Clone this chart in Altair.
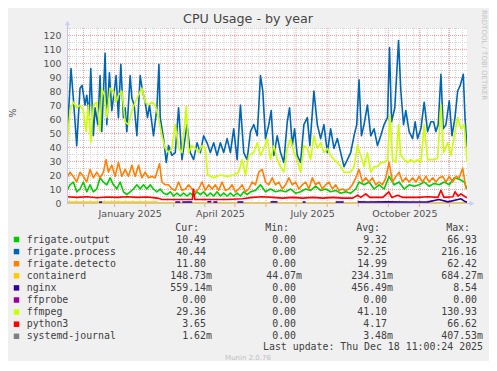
import altair as alt
import pandas as pd

START = pd.Timestamp("2024-11-14 12:00")
END = pd.Timestamp("2025-12-18 12:00")

names = ["frigate.output", "frigate.process", "frigate.detecto", "containerd", "nginx",
         "ffprobe", "ffmpeg", "python3", "systemd-journal"]
colors = ["#00CC00", "#0066B3", "#FF8000", "#FFCC00", "#330099",
          "#990099", "#CCFF00", "#FF0000", "#808080"]

# ---- series (day offset from START, value in %) ----
process_day = [0, 4, 6.3, 9.7, 13, 15, 18, 19.7, 22, 23.7,
               26.3, 28, 30.7, 33, 34.7, 38, 39.7, 42.3, 44.7, 46.3,
               49, 51.3, 53.7, 56.3, 58, 59.7, 63, 64.7, 67, 69.7,
               73, 75.3, 78, 80.3, 82.3, 86.3, 89.7, 91.7, 93, 96.3,
               99, 101.3, 104.7, 108, 111.3, 114.7, 119.7, 123, 126.3, 129.7,
               133, 136.3, 139.7, 143, 146.3, 149.7, 153, 156.3, 159.7, 163,
               166.3, 169.7, 173, 176.3, 179.7, 183, 186.3, 189.7, 193, 195.3,
               198, 201.3, 203.7, 206.3, 209.7, 213, 216.3, 219.7, 222, 224.7,
               227, 229.7, 233, 236.3, 239.7, 242.3, 246.3, 249.7, 253, 256.3,
               259.7, 263, 266.3, 269.7, 273, 276.3, 279.7, 283, 286.3, 289,
               291.3, 293.7, 296.3, 299.7, 303, 306.3, 309.7, 313, 316.3, 319.7,
               321.7, 323.7, 327, 330.7, 333, 335.7, 338, 341.3, 344.7, 347.3,
               349.7, 353, 356.3, 359.7, 363, 365.7, 368, 370.3, 373, 375.3,
               378, 381.3, 384, 387, 389.7, 392.3, 395.3, 397, 399]
process_val = [46, 96, 75, 41, 82, 84, 70, 77, 63, 96,
               48, 68, 56, 91, 51, 107, 56, 93, 66, 75,
               91, 61, 99, 61, 68, 51, 91, 75, 70, 48,
               91, 80, 72, 61, 70, 48, 68, 99, 61, 46,
               29, 41, 34, 36, 68, 31, 56, 36, 31, 43,
               36, 48, 43, 36, 43, 34, 43, 36, 46, 36,
               53, 31, 70, 36, 31, 51, 56, 48, 91, 80,
               46, 56, 66, 34, 48, 36, 29, 58, 68, 41,
               53, 34, 29, 56, 61, 41, 80, 56, 46, 56,
               36, 53, 39, 46, 36, 26, 31, 36, 48, 56,
               88, 48, 56, 70, 48, 53, 41, 48, 56, 61,
               111, 58, 68, 116, 80, 56, 66, 51, 46, 58,
               46, 53, 72, 51, 58, 58, 51, 56, 92, 53,
               56, 73, 48, 61, 80, 84, 92, 61, 40]

ffmpeg_day = [0, 3, 6.3, 9.7, 13, 16.3, 19, 21.3, 23.7, 26.3,
              29.7, 33, 34.7, 37.3, 39.7, 43, 46.3, 49, 51.3, 54.7,
              58, 61.3, 64.7, 68, 71.3, 74.7, 78, 81.3, 84.7, 88,
              91.3, 94.7, 98, 101.3, 104.7, 108, 111.3, 114.7, 119, 121.3,
              124.7, 128, 131.3, 134.7, 138, 140.3, 146.3, 153, 159.7, 166.3,
              171.3, 174.7, 178, 181.3, 186.3, 189.7, 193, 196.3, 199.7, 203,
              206.3, 209.7, 213, 216.3, 219.7, 223, 226.3, 229.7, 233, 236.3,
              239.7, 243, 246.3, 249.7, 253, 256.3, 259.7, 263, 266.3, 269.7,
              273, 276.3, 279.7, 283, 286.3, 289.7, 293, 296.3, 299.7, 303,
              306.3, 309.7, 313, 316.3, 319.7, 322.3, 324.7, 328, 330.7, 333,
              336.3, 339.7, 343, 346.3, 349.7, 353, 356.3, 359.7, 363, 366.3,
              369.7, 373, 375.7, 379.7, 383, 386.3, 389.7, 393, 396.3, 399]
ffmpeg_val = [39, 66, 72, 68, 70, 66, 51, 70, 43, 70,
              72, 51, 82, 77, 61, 82, 80, 72, 77, 80,
              58, 56, 66, 72, 77, 82, 72, 70, 72, 70,
              61, 48, 39, 36, 39, 56, 39, 36, 69, 36,
              41, 39, 36, 41, 39, 20, 18, 20, 19, 20,
              22, 31, 20, 34, 36, 43, 34, 39, 46, 31,
              41, 31, 26, 22, 39, 46, 36, 31, 22, 41,
              39, 31, 48, 39, 43, 36, 39, 34, 31, 29,
              26, 22, 22, 22, 26, 41, 34, 26, 36, 22,
              26, 26, 29, 29, 31, 63, 31, 29, 56, 34,
              31, 29, 31, 29, 31, 29, 56, 31, 31, 31,
              32, 70, 36, 43, 34, 48, 61, 53, 56, 29]

detecto_day = [0, 3, 6.3, 9.7, 13, 16.3, 19.7, 23, 26.3, 29.7,
               33, 36.3, 39, 41.3, 44.7, 48, 51.3, 54.7, 58, 61.3,
               64.7, 68, 71.3, 74.7, 78, 81.3, 84.7, 88, 92.3, 94.7,
               98, 101.3, 104.7, 108, 111.3, 114.7, 118, 121.3, 124.7, 128,
               131.3, 134.7, 138, 141.3, 144.7, 148, 151.3, 154.7, 158, 161.3,
               164.7, 168, 171.3, 174.7, 178, 181.3, 184.7, 188, 191.3, 194.7,
               198, 201.3, 204.7, 208, 211.3, 214.7, 218, 221.3, 224.7, 228,
               231.3, 234.7, 238, 241.3, 244.7, 248, 251.3, 254.7, 258, 261.3,
               264.7, 268, 271.3, 274.7, 278, 281.3, 284.7, 288, 291.3, 294.7,
               298, 301.3, 304.7, 308, 311.3, 314.7, 318, 321.3, 324.7, 328,
               331.3, 334.7, 338, 341.3, 344.7, 348, 351.3, 354.7, 358, 361.3,
               364.7, 368, 371.3, 374.7, 378, 381.3, 384.7, 388, 391.3, 394.7, 398]
detecto_val = [18, 22, 19, 15, 22, 19, 15, 24, 18, 22,
               18, 22, 31, 22, 27, 19, 29, 19, 24, 19,
               27, 19, 27, 18, 22, 18, 19, 18, 28, 15,
               13, 13, 10, 9, 15, 9, 10, 13, 10, 8,
               10, 15, 9, 13, 10, 13, 9, 15, 9, 10,
               13, 8, 10, 13, 8, 10, 15, 13, 22, 24,
               15, 13, 18, 13, 15, 10, 13, 18, 13, 15,
               10, 13, 15, 10, 18, 13, 15, 10, 13, 15,
               10, 13, 9, 10, 9, 10, 13, 18, 24, 15,
               18, 15, 18, 13, 15, 13, 18, 29, 15, 19,
               22, 15, 18, 15, 18, 15, 19, 15, 19, 15,
               18, 15, 18, 19, 15, 19, 15, 19, 18, 25, 10]

output_day = [0, 3, 6.3, 9.7, 13, 16.3, 19.7, 23, 26.3, 29.7,
              33, 36.3, 39.7, 43, 46.3, 49.7, 53, 56.3, 59.7, 63,
              66.3, 69.7, 73, 76.3, 79.7, 83, 86.3, 89.7, 93, 96.3,
              99.7, 103, 106.3, 109.7, 113, 116.3, 119.7, 123, 126.3, 129.7,
              133, 136.3, 139.7, 143, 146.3, 149.7, 153, 156.3, 159.7, 163,
              166.3, 169.7, 173, 176.3, 179.7, 183, 188, 193, 198, 203,
              208, 213, 218, 223, 228, 233, 238, 243, 248, 253,
              258, 263, 268, 273, 278, 283, 288, 291.3, 296.3, 301.3,
              306.3, 311.3, 316.3, 321.3, 326.3, 331.3, 336.3, 341.3, 346.3, 351.3,
              356.3, 361.3, 366.3, 371.3, 376.3, 381.3, 386.3, 391.3, 396.3, 399]
output_val = [9, 13, 15, 8, 10, 15, 8, 13, 8, 10,
              18, 15, 13, 18, 13, 10, 15, 8, 6, 8,
              10, 13, 10, 13, 10, 13, 10, 8, 10, 7,
              6, 8, 5, 7, 5, 7, 5, 7, 5, 8,
              6, 8, 5, 7, 5, 8, 5, 7, 5, 7,
              5, 7, 5, 8, 6, 8, 9, 13, 8, 10,
              8, 9, 8, 10, 7, 8, 10, 9, 12, 9,
              10, 8, 9, 7, 8, 7, 10, 15, 13, 15,
              10, 13, 10, 19, 13, 15, 10, 13, 12, 13,
              15, 12, 14, 13, 15, 13, 18, 17, 15, 10]

python_day = [0, 10, 20, 30, 40, 50, 60, 70, 80, 90,
              95, 110, 125, 126, 127.5, 140, 160, 175, 185, 195,
              205, 215, 225, 235, 245, 255, 265, 275, 285, 290,
              293, 298, 302, 315, 321, 324, 330, 335, 350, 360,
              370, 373, 376, 385, 387, 390, 393, 396, 399]
python_val = [4.5, 4, 4.5, 3.8, 4.3, 4, 4.5, 4, 4.3, 3.5,
              2.5, 2.5, 2.5, 10, 2.5, 2.5, 2.5, 3, 4, 4.5,
              4, 3.5, 4, 3.5, 4, 3.5, 4, 3.5, 3.5, 5.5,
              4, 6.5, 4, 4, 8, 4, 5.5, 4, 4, 4.5,
              4, 9, 4, 4.5, 8, 5, 6.5, 5, 3.65]

nginx_day = [32, 35, 108, 113, 115, 125, 140, 144, 146, 150, 170, 176, 203, 210,
             235, 238, 268, 276,
             290, 300, 320, 340, 360, 371, 380, 390, 393, 396, 399]
nginx_val = [0.6, 0.6, 0.7, 0.7, 0.7, 0.7, 0.9, 0.9, 0.7, 0.7, 0.7, 0.7, 0.8, 0.8,
             0.7, 0.7, 0.7, 0.7,
             0.8, 0.7, 0.8, 0.7, 0.8, 2.5, 0.8, 2.5, 3.0, 1.5, 0.56]
nginx_seg = [0, 0, 1, 1, 2, 2, 3, 3, 4, 4, 5, 5, 6, 6,
             7, 7, 8, 8,
             9, 9, 9, 9, 9, 9, 9, 9, 9, 9, 9]

containerd_day = [0, 90, 91, 399]
containerd_val = [0.6, 0.6, 0.15, 0.15]
ffprobe_day = [0, 399]
ffprobe_val = [0.0, 0.0]
journal_day = [0, 399]
journal_val = [0.003, 0.002]

# ---- legend table ----
cur_num = ["10.49", "40.44", "11.80", "148.73", "559.14", "0.00", "29.36", "3.65", "1.62"]
cur_unit = ["", "", "", "m", "m", "", "", "", "m"]
min_num = ["0.00", "0.00", "0.00", "44.07", "0.00", "0.00", "0.00", "0.00", "0.00"]
min_unit = ["", "", "", "m", "", "", "", "", ""]
avg_num = ["9.32", "52.25", "14.99", "234.31", "456.49", "0.00", "41.10", "4.17", "3.48"]
avg_unit = ["", "", "", "m", "m", "", "", "", "m"]
max_num = ["66.93", "216.16", "62.42", "684.27", "8.54", "0.00", "130.93", "66.62", "407.53"]
max_unit = ["", "", "", "m", "", "", "", "", "m"]

# grid positions
month_starts = ["2024-12-01", "2025-01-01", "2025-02-01", "2025-03-01", "2025-04-01",
                "2025-05-01", "2025-06-01", "2025-07-01", "2025-08-01", "2025-09-01",
                "2025-10-01", "2025-11-01", "2025-12-01"]
week_lines = ["2024-11-17", "2024-11-24", "2024-12-08", "2024-12-15", "2024-12-22",
              "2024-12-29", "2025-01-05", "2025-01-12", "2025-01-19", "2025-01-26",
              "2025-02-09", "2025-02-16", "2025-02-23", "2025-03-09", "2025-03-16",
              "2025-03-23", "2025-03-30", "2025-04-06", "2025-04-13", "2025-04-20",
              "2025-04-27", "2025-05-04", "2025-05-11", "2025-05-18", "2025-05-25",
              "2025-06-08", "2025-06-15", "2025-06-22", "2025-06-29", "2025-07-06",
              "2025-07-13", "2025-07-20", "2025-07-27", "2025-08-03", "2025-08-10",
              "2025-08-17", "2025-08-24", "2025-08-31", "2025-09-07", "2025-09-14",
              "2025-09-21", "2025-09-28", "2025-10-05", "2025-10-12", "2025-10-19",
              "2025-10-26", "2025-11-02", "2025-11-09", "2025-11-16", "2025-11-23",
              "2025-11-30", "2025-12-07", "2025-12-14"]
y_major = list(range(10, 121, 10))
y_minor = list(range(5, 126, 10))

FONT = "DejaVu Sans"
MONO = "DejaVu Sans Mono"
GRID_RED = "#E9A3A3"
GRID_GRAY = "#D2D2D2"
AXIS_COL = "#C4C4E6"
TXT = "#505050"


def frame(name, days, vals, segs=None):
    assert len(days) == len(vals)
    return pd.DataFrame({
        "date": START + pd.to_timedelta(days, unit="D"),
        "value": vals,
        "seg": segs if segs is not None else [0] * len(days),
        "series": name,
    })


series_data = {
    "frigate.output": frame("frigate.output", output_day, output_val),
    "frigate.process": frame("frigate.process", process_day, process_val),
    "frigate.detecto": frame("frigate.detecto", detecto_day, detecto_val),
    "containerd": frame("containerd", containerd_day, containerd_val),
    "nginx": frame("nginx", nginx_day, nginx_val, nginx_seg),
    "ffprobe": frame("ffprobe", ffprobe_day, ffprobe_val),
    "ffmpeg": frame("ffmpeg", ffmpeg_day, ffmpeg_val),
    "python3": frame("python3", python_day, python_val),
    "systemd-journal": frame("systemd-journal", journal_day, journal_val),
}

xscale = alt.Scale(domain=[alt.DateTime(year=2024, month=11, date=14, hours=12),
                           alt.DateTime(year=2025, month=12, date=18, hours=12)])
yscale = alt.Scale(domain=[0, 125], nice=False, zero=True)

xaxis = alt.Axis(
    values=[alt.DateTime(year=2025, month=1, date=16),
            alt.DateTime(year=2025, month=4, date=16),
            alt.DateTime(year=2025, month=7, date=17),
            alt.DateTime(year=2025, month=10, date=17)],
    format="%B %Y", formatType="time", grid=False, ticks=False, domain=False,
    labelFont=FONT, labelFontSize=9.5, labelColor=TXT, labelPadding=5,
    labelOverlap=False, labelFlush=False, title=None)
yaxis = alt.Axis(values=list(range(0, 121, 10)), grid=False, ticks=False, domain=False,
                 labelFont=FONT, labelFontSize=9.4, labelColor=TXT, labelPadding=6,
                 title=None)

X = alt.X("date:T", scale=xscale, axis=xaxis)
Y = alt.Y("value:Q", scale=yscale, axis=yaxis)

layers = []

# grid
layers.append(alt.Chart(pd.DataFrame({"date": pd.to_datetime(week_lines)})).mark_rule(
    color=GRID_GRAY, strokeWidth=1, strokeDash=[1, 1]).encode(x=X))
layers.append(alt.Chart(pd.DataFrame({"value": y_minor})).mark_rule(
    color=GRID_GRAY, strokeWidth=1, strokeDash=[1, 1], yOffset=0.5).encode(y=Y))
layers.append(alt.Chart(pd.DataFrame({"date": pd.to_datetime(month_starts)})).mark_rule(
    color=GRID_RED, strokeWidth=1, strokeDash=[1, 1]).encode(x=X))
layers.append(alt.Chart(pd.DataFrame({"value": y_major})).mark_rule(
    color=GRID_RED, strokeWidth=1, strokeDash=[1, 1], yOffset=0.5).encode(y=Y))
# month ticks below axis
layers.append(alt.Chart(pd.DataFrame({"date": pd.to_datetime(month_starts)})).mark_rule(
    color=GRID_RED, strokeWidth=1).encode(x=X, y=alt.value(176), y2=alt.value(179)))

# series lines (munin draw order; zero-valued ones first)
draw_order = ["ffprobe", "systemd-journal", "frigate.output", "frigate.process",
              "frigate.detecto", "containerd", "nginx", "ffmpeg", "python3"]
for nm in draw_order:
    col = colors[names.index(nm)]
    layers.append(alt.Chart(series_data[nm]).mark_line(
        strokeWidth=1.6, clip=True, strokeJoin="round").encode(
        x=X, y=Y, detail="seg:N", color=alt.value(col)))

# axis lines and arrows
layers.append(alt.Chart(pd.DataFrame({"a": [0]})).mark_rule(color=AXIS_COL, strokeWidth=1).encode(
    x=alt.value(0), x2=alt.value(404), y=alt.value(175.5)))
layers.append(alt.Chart(pd.DataFrame({"a": [0]})).mark_rule(color=AXIS_COL, strokeWidth=1).encode(
    x=alt.value(0.5), y=alt.value(175), y2=alt.value(-4)))
layers.append(alt.Chart(pd.DataFrame({"a": [0]})).mark_point(
    shape="triangle-right", filled=True, size=28, color="#C8D0F8", opacity=1).encode(
    x=alt.value(405), y=alt.value(175.5)))
layers.append(alt.Chart(pd.DataFrame({"a": [0]})).mark_point(
    shape="triangle-up", filled=True, size=28, color="#C8D0F8", opacity=1).encode(
    x=alt.value(0.5), y=alt.value(-5)))

# titles / side texts
def label(text, x, y, **kw):
    return alt.Chart(pd.DataFrame({"t": [text]})).mark_text(**kw).encode(
        text="t:N", x=alt.value(x), y=alt.value(y))

layers.append(label("CPU Usage - by year", 181, -9, font=FONT, fontSize=12.7,
                    color="#444444", align="center", baseline="middle"))
layers.append(label("%", -54, 85, font=FONT, fontSize=9.5, color=TXT, angle=270,
                    align="center", baseline="middle"))
layers.append(label("RRDTOOL / TOBI OETIKER", 417, -18, font=FONT, fontSize=7,
                    color="#C4C4C4", angle=90, align="left", baseline="middle"))
layers.append(label("Last update: Thu Dec 18 11:00:24 2025", 416, 319.3, font=MONO,
                    fontSize=9.9, color="#404040", align="right", baseline="middle"))
layers.append(label("Munin 2.0.76", 181, 329.5, font=FONT, fontSize=7, color="#C0C0C0",
                    align="center", baseline="middle"))

# legend headers
for h, xr in [("Cur:", 132), ("Min:", 222), ("Avg:", 313), ("Max:", 403)]:
    layers.append(label(h, xr, 200, font=MONO, fontSize=9.9, color="#404040",
                        align="right", baseline="middle"))

legend_df = pd.DataFrame({
    "row": list(range(len(names))), "name": names, "color": colors,
    "cur_num": cur_num, "cur_unit": cur_unit, "min_num": min_num, "min_unit": min_unit,
    "avg_num": avg_num, "avg_unit": avg_unit, "max_num": max_num, "max_unit": max_unit,
})
leg = alt.Chart(legend_df).transform_calculate(ly="211.5 + 12.1 * datum.row")
LY = alt.Y("ly:Q", scale=None, axis=None)
layers.append(leg.mark_square(size=30, opacity=1).encode(
    x=alt.value(-50.5), y=LY, color=alt.Color("color:N", scale=None, legend=None)))
layers.append(leg.mark_text(font=MONO, fontSize=9.9, color="#404040", align="left",
                            baseline="middle").encode(x=alt.value(-40.3), y=LY, text="name:N"))
for col, xr in [("cur", 139), ("min", 229), ("avg", 320), ("max", 410)]:
    layers.append(leg.mark_text(font=MONO, fontSize=9.9, color="#404040", align="right",
                                baseline="middle").encode(x=alt.value(xr), y=LY,
                                                          text=f"{col}_num:N"))
    layers.append(leg.mark_text(font=MONO, fontSize=9.9, color="#404040", align="left",
                                baseline="middle").encode(x=alt.value(xr), y=LY,
                                                          text=f"{col}_unit:N"))

chart = alt.layer(*layers).properties(
    width=400, height=175,
    padding={"left": 59, "top": 20, "right": 22, "bottom": 158},
    autosize=alt.AutoSizeParams(type="none"),
    background="#F0F0F0",
).configure_view(fill="white", stroke=None)

chart.save("out.html", embed_options={"renderer": "svg", "actions": False})
